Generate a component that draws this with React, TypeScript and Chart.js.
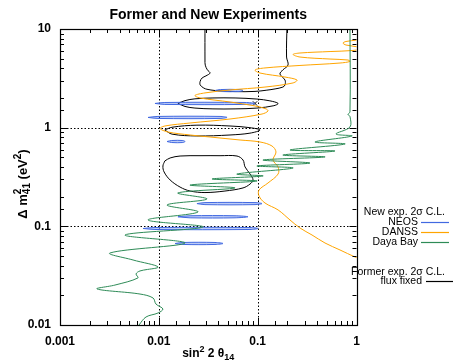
import { useEffect, useRef } from 'react';
import { Chart, registerables } from 'chart.js';
Chart.register(...registerables);

type P = [number, number];

const xTickLabels = ['0.001', '0.01', '0.1', '1'];
const yTickLabels = ['0.01', '0.1', '1', '10'];

// Former experiments (flux fixed), 2 sigma
const formerOpen: P[] = [
  [0.0293, 11], [0.0293, 4.85], [0.0295, 4.3], [0.031, 3.85], [0.033, 3.58], [0.030, 3.35],
  [0.0274, 3.19], [0.0262, 2.95], [0.0262, 2.71], [0.0285, 2.52], [0.0307, 2.45], [0.037, 2.38],
  [0.059, 2.32], [0.094, 2.33], [0.124, 2.40], [0.150, 2.47], [0.180, 2.58], [0.189, 2.71],
  [0.189, 3.04], [0.168, 3.5], [0.180, 3.85], [0.203, 4.32], [0.196, 5.2], [0.198, 11],
];
const formerLoop1: P[] = [
  [0.0156, 1.76], [0.0184, 1.88], [0.0232, 1.96], [0.0353, 2.0], [0.059, 2.0], [0.0984, 1.95],
  [0.133, 1.87], [0.161, 1.76], [0.146, 1.67], [0.0984, 1.58], [0.059, 1.55], [0.0353, 1.55],
  [0.0232, 1.58], [0.0184, 1.64], [0.0156, 1.76],
];
const formerLoop2: P[] = [
  [0.0115, 0.947], [0.0136, 1.01], [0.0243, 1.06], [0.0525, 1.04], [0.0836, 1.0], [0.1056, 0.947],
  [0.0836, 0.88], [0.0525, 0.843], [0.0243, 0.824], [0.0136, 0.86], [0.0115, 0.947],
];
const formerLoop3: P[] = [
  [0.0115, 0.46], [0.013, 0.493], [0.0164, 0.516], [0.0261, 0.52], [0.0416, 0.52], [0.0618, 0.516],
  [0.0711, 0.47], [0.0745, 0.40], [0.0836, 0.34], [0.0898, 0.295], [0.0836, 0.268], [0.0711, 0.245],
  [0.0467, 0.228], [0.0293, 0.22], [0.0207, 0.228], [0.0164, 0.25], [0.013, 0.295], [0.0113, 0.356],
  [0.011, 0.409], [0.0115, 0.46],
];
const formerBestFit: P[] = [[0.094, 1.76]];

// NEOS 2 sigma islands
const neosIslands: P[][] = [
  [[0.037, 2.38], [0.042, 2.435], [0.066, 2.435], [0.071, 2.38], [0.066, 2.325], [0.042, 2.325], [0.037, 2.38]],
  [[0.00914, 1.76], [0.0115, 1.80], [0.0745, 1.80], [0.094, 1.76], [0.0745, 1.72], [0.0115, 1.72], [0.00914, 1.76]],
  [[0.00777, 1.27], [0.0098, 1.30], [0.0416, 1.30], [0.049, 1.27], [0.0416, 1.24], [0.0098, 1.24], [0.00777, 1.27]],
  [[0.0121, 0.724], [0.0135, 0.741], [0.0175, 0.741], [0.0184, 0.724], [0.0175, 0.707], [0.0135, 0.707], [0.0121, 0.724]],
  [[0.0243, 0.170], [0.0293, 0.174], [0.094, 0.174], [0.1107, 0.170], [0.094, 0.166], [0.0293, 0.166], [0.0243, 0.170]],
  [[0.0156, 0.125], [0.0207, 0.128], [0.059, 0.128], [0.0798, 0.125], [0.059, 0.122], [0.0207, 0.122], [0.0156, 0.125]],
  [[0.00692, 0.0951], [0.00914, 0.0973], [0.0836, 0.0973], [0.1007, 0.0951], [0.0836, 0.0929], [0.00914, 0.0929], [0.00692, 0.0951]],
  [[0.0146, 0.067], [0.0175, 0.0686], [0.037, 0.0686], [0.0446, 0.067], [0.037, 0.0655], [0.0175, 0.0655], [0.0146, 0.067]],
];

// DANSS 2 sigma
const danssCurve: P[] = [
  [1.012, 7.73], [0.783, 7.47], [0.730, 7.21], [0.783, 6.88], [1.035, 6.57], [1.085, 6.27], [0.901, 6.05],
  [0.540, 5.91], [0.268, 5.71], [0.228, 5.52], [0.268, 5.20], [0.540, 4.96], [0.820, 4.85], [0.859, 4.69],
  [0.681, 4.52], [0.268, 4.27], [0.1186, 4.03], [0.094, 3.84], [0.1056, 3.58], [0.189, 3.26], [0.250, 3.04],
  [0.228, 2.84], [0.1186, 2.58], [0.0525, 2.41], [0.0293, 2.25], [0.0232, 2.12], [0.0261, 2.0], [0.0525, 1.82],
  [0.094, 1.66], [0.1215, 1.55], [0.1272, 1.475], [0.1107, 1.375], [0.0525, 1.224], [0.0207, 1.115],
  [0.0115, 1.04], [0.01028, 0.981], [0.01238, 0.904], [0.0207, 0.843], [0.033, 0.804], [0.0663, 0.750],
  [0.1056, 0.716], [0.1396, 0.652], [0.1533, 0.567], [0.143, 0.470], [0.161, 0.3995], [0.161, 0.339],
  [0.1272, 0.275], [0.1032, 0.2335], [0.1032, 0.203], [0.1186, 0.1724], [0.161, 0.1466], [0.2124, 0.116],
  [0.268, 0.0962], [0.3547, 0.0817], [0.480, 0.0678], [0.681, 0.0576], [0.966, 0.0489], [1.035, 0.0478],
];

// Daya Bay 2 sigma
const dayaBayCurve: P[] = [
  [0.859, 11], [0.859, 1.442], [0.820, 1.36], [0.859, 1.30], [0.859, 1.016], [0.620, 0.863], [0.901, 0.824],
  [0.380, 0.716], [0.765, 0.683], [0.2124, 0.594], [0.606, 0.580], [0.180, 0.528], [0.480, 0.505],
  [0.1132, 0.470], [0.3385, 0.438], [0.0984, 0.409], [0.228, 0.390], [0.0618, 0.339], [0.1132, 0.324],
  [0.0345, 0.302], [0.0984, 0.288], [0.0207, 0.262], [0.059, 0.245], [0.0156, 0.218], [0.0307, 0.1892],
  [0.0121, 0.1646], [0.0249, 0.1398], [0.00777, 0.116], [0.028, 0.0985], [0.00455, 0.0817], [0.0184, 0.0678],
  [0.00321, 0.0537], [0.00548, 0.0456], [0.00981, 0.0387], [0.00645, 0.0353], [0.00588, 0.0329],
  [0.00615, 0.030], [0.0036, 0.0254], [0.00237, 0.0232], [0.00645, 0.0206], [0.00873, 0.0188],
  [0.00936, 0.0163], [0.011, 0.01453], [0.00981, 0.01323], [0.00742, 0.01206], [0.0063, 0.0100], [0.006, 0.0093],
];

const BLACK = '#000000';
const BLUE = '#4169e1';
const BLUE_FILL = 'rgba(65,105,225,0.35)';
const ORANGE = '#ffa500';
const GREEN = '#2e8b57';
const FONT = '"Liberation Sans", Arial, Helvetica, sans-serif';

const toXY = (a: P[]) => a.map(([x, y]) => ({ x, y }));
const curve = (a: P[], color: string, width = 1, fillColor?: string) => ({
  data: toXY(a),
  showLine: true,
  borderColor: color,
  backgroundColor: fillColor || color,
  borderWidth: width,
  pointRadius: 0,
  pointHoverRadius: 0,
  tension: 0.35,
  fill: fillColor ? 'shape' : false,
});

const isDecade = (v: number) => {
  const l = Math.log10(v);
  return Math.abs(l - Math.round(l)) < 1e-6;
};

const drawPieces = (ctx: CanvasRenderingContext2D, pieces: { t: string; f: string; dy: number; stackW?: boolean }[], cx: number, baseY: number) => {
  let total = 0;
  const widths = pieces.map((p) => {
    ctx.font = p.f;
    return ctx.measureText(p.t).width;
  });
  pieces.forEach((p, i) => {
    if (!p.stackW) total += widths[i];
  });
  let x = cx - total / 2;
  pieces.forEach((p, i) => {
    ctx.font = p.f;
    ctx.fillText(p.t, x, baseY + p.dy);
    if (!p.stackW) x += widths[i];
  });
};

const decor = {
  id: 'decor',
  beforeDatasetsDraw(chart: any) {
    const { ctx, chartArea } = chart;
    const { left, right, top, bottom } = chartArea;
    const xs = chart.scales.x;
    const ys = chart.scales.y;
    ctx.save();
    ctx.strokeStyle = BLACK;
    ctx.lineWidth = 1;
    ctx.setLineDash([1.5, 2]);
    xs.ticks.forEach((t: any) => {
      if (isDecade(t.value) && t.value > xs.min * 1.001 && t.value < xs.max * 0.999) {
        const px = Math.round(xs.getPixelForValue(t.value)) + 0.5;
        ctx.beginPath();
        ctx.moveTo(px, top);
        ctx.lineTo(px, bottom);
        ctx.stroke();
      }
    });
    ys.ticks.forEach((t: any) => {
      if (isDecade(t.value) && t.value > ys.min * 1.001 && t.value < ys.max * 0.999) {
        const py = Math.round(ys.getPixelForValue(t.value)) + 0.5;
        ctx.beginPath();
        ctx.moveTo(left, py);
        ctx.lineTo(right, py);
        ctx.stroke();
      }
    });
    ctx.restore();
  },
  afterDatasetsDraw(chart: any) {
    const { ctx, chartArea } = chart;
    const { left, right, top, bottom } = chartArea;
    const xs = chart.scales.x;
    const ys = chart.scales.y;
    ctx.save();
    ctx.strokeStyle = BLACK;
    ctx.lineWidth = 1;
    ctx.setLineDash([]);
    ctx.beginPath();
    xs.ticks.forEach((t: any) => {
      const px = Math.round(xs.getPixelForValue(t.value)) + 0.5;
      const len = isDecade(t.value) ? 7 : 4;
      ctx.moveTo(px, bottom);
      ctx.lineTo(px, bottom - len);
      ctx.moveTo(px, top);
      ctx.lineTo(px, top + len);
    });
    ys.ticks.forEach((t: any) => {
      const py = Math.round(ys.getPixelForValue(t.value)) + 0.5;
      const len = isDecade(t.value) ? 7 : 4;
      ctx.moveTo(left, py);
      ctx.lineTo(left + len, py);
      ctx.moveTo(right, py);
      ctx.lineTo(right - len, py);
    });
    ctx.stroke();
    ctx.lineWidth = 1.2;
    ctx.strokeRect(Math.round(left) + 0.5, Math.round(top) + 0.5, Math.round(right - left), Math.round(bottom - top));
    ctx.restore();
  },
  afterDraw(chart: any) {
    const { ctx, chartArea } = chart;
    const { left, right } = chartArea;
    ctx.save();
    ctx.fillStyle = BLACK;
    ctx.font = `bold 14px ${FONT}`;
    ctx.textAlign = 'center';
    ctx.textBaseline = 'middle';
    ctx.fillText('Former and New Experiments', (left + right) / 2, 15);

    ctx.textAlign = 'left';
    ctx.textBaseline = 'alphabetic';
    const main = `bold 12px ${FONT}`;
    const script = `bold 9px ${FONT}`;
    drawPieces(ctx, [
      { t: 'sin', f: main, dy: 0 },
      { t: '2', f: script, dy: -5 },
      { t: ' 2 θ', f: main, dy: 0 },
      { t: '14', f: script, dy: 3 },
    ], (left + right) / 2, 357);

    const ymain = `bold 13px ${FONT}`;
    const yscript = `bold 10px ${FONT}`;
    ctx.save();
    ctx.translate(22, 184);
    ctx.rotate(-Math.PI / 2);
    drawPieces(ctx, [
      { t: 'Δ m', f: ymain, dy: 0 },
      { t: '2', f: yscript, dy: -6, stackW: true },
      { t: '41', f: yscript, dy: 3 },
      { t: ' (eV', f: ymain, dy: 0 },
      { t: '2', f: yscript, dy: -6 },
      { t: ')', f: ymain, dy: 0 },
    ], 0, 5);
    ctx.restore();

    ctx.font = `10.5px ${FONT}`;
    ctx.textAlign = 'right';
    ctx.textBaseline = 'middle';
    ctx.fillText('New exp. 2σ C.L.', 445, 212);
    const entries: [string, string, number][] = [
      ['NEOS', BLUE, 222],
      ['DANSS', ORANGE, 232],
      ['Daya Bay', GREEN, 242],
    ];
    entries.forEach(([label, color, y]) => {
      ctx.fillStyle = BLACK;
      ctx.fillText(label, 418, y);
      ctx.strokeStyle = color;
      ctx.lineWidth = 1.2;
      ctx.beginPath();
      ctx.moveTo(421, y + 0.5);
      ctx.lineTo(449, y + 0.5);
      ctx.stroke();
    });
    ctx.fillStyle = BLACK;
    ctx.fillText('Former exp. 2σ C.L.', 445, 272);
    ctx.fillText('flux fixed', 422, 281);
    ctx.strokeStyle = BLACK;
    ctx.lineWidth = 1.2;
    ctx.beginPath();
    ctx.moveTo(426, 281.5);
    ctx.lineTo(453, 281.5);
    ctx.stroke();
    ctx.restore();
  },
};

export default function App() {
  const ref = useRef<HTMLCanvasElement | null>(null);
  useEffect(() => {
    if (!ref.current) return;
    const datasets: any[] = [
      curve(dayaBayCurve, GREEN),
      curve(danssCurve, ORANGE),
      ...neosIslands.map((isl) => curve(isl, BLUE, 1, BLUE_FILL)),
      curve(formerOpen, BLACK),
      curve(formerLoop1, BLACK),
      curve(formerLoop2, BLACK),
      curve(formerLoop3, BLACK),
      {
        data: toXY(formerBestFit),
        showLine: false,
        pointStyle: 'crossRot',
        pointRadius: 3,
        borderColor: BLACK,
        borderWidth: 1,
      },
    ];
    const chart = new Chart(ref.current, {
      type: 'scatter',
      data: { datasets },
      plugins: [decor],
      options: {
        animation: false,
        responsive: false,
        events: [],
        layout: { padding: { top: 29, right: 97.5, left: 0, bottom: 0 } },
        plugins: { legend: { display: false }, tooltip: { enabled: false }, title: { display: false } },
        scales: {
          x: {
            type: 'logarithmic',
            min: 0.001,
            max: 1,
            grid: { display: false, drawTicks: false },
            border: { display: false },
            afterFit: (s: any) => { s.height = 38; },
            ticks: {
              autoSkip: false,
              maxRotation: 0,
              padding: 9,
              color: BLACK,
              font: { family: FONT, size: 12, weight: 'bold' },
              callback: (v: any) => (isDecade(Number(v)) ? xTickLabels[Math.round(Math.log10(Number(v))) + 3] : ''),
            },
          },
          y: {
            type: 'logarithmic',
            min: 0.01,
            max: 10,
            grid: { display: false, drawTicks: false },
            border: { display: false },
            afterFit: (s: any) => { s.width = 60; },
            ticks: {
              autoSkip: false,
              padding: 9,
              color: BLACK,
              font: { family: FONT, size: 12, weight: 'bold' },
              callback: (v: any) => (isDecade(Number(v)) ? yTickLabels[Math.round(Math.log10(Number(v))) + 2] : ''),
            },
          },
        },
      } as any,
    });
    return () => chart.destroy();
  }, []);
  return (
    <div style={{ position: 'absolute', left: 0, top: 0, width: 454, height: 363 }}>
      <canvas ref={ref} width={454} height={363} style={{ display: 'block' }} />
    </div>
  );
}
